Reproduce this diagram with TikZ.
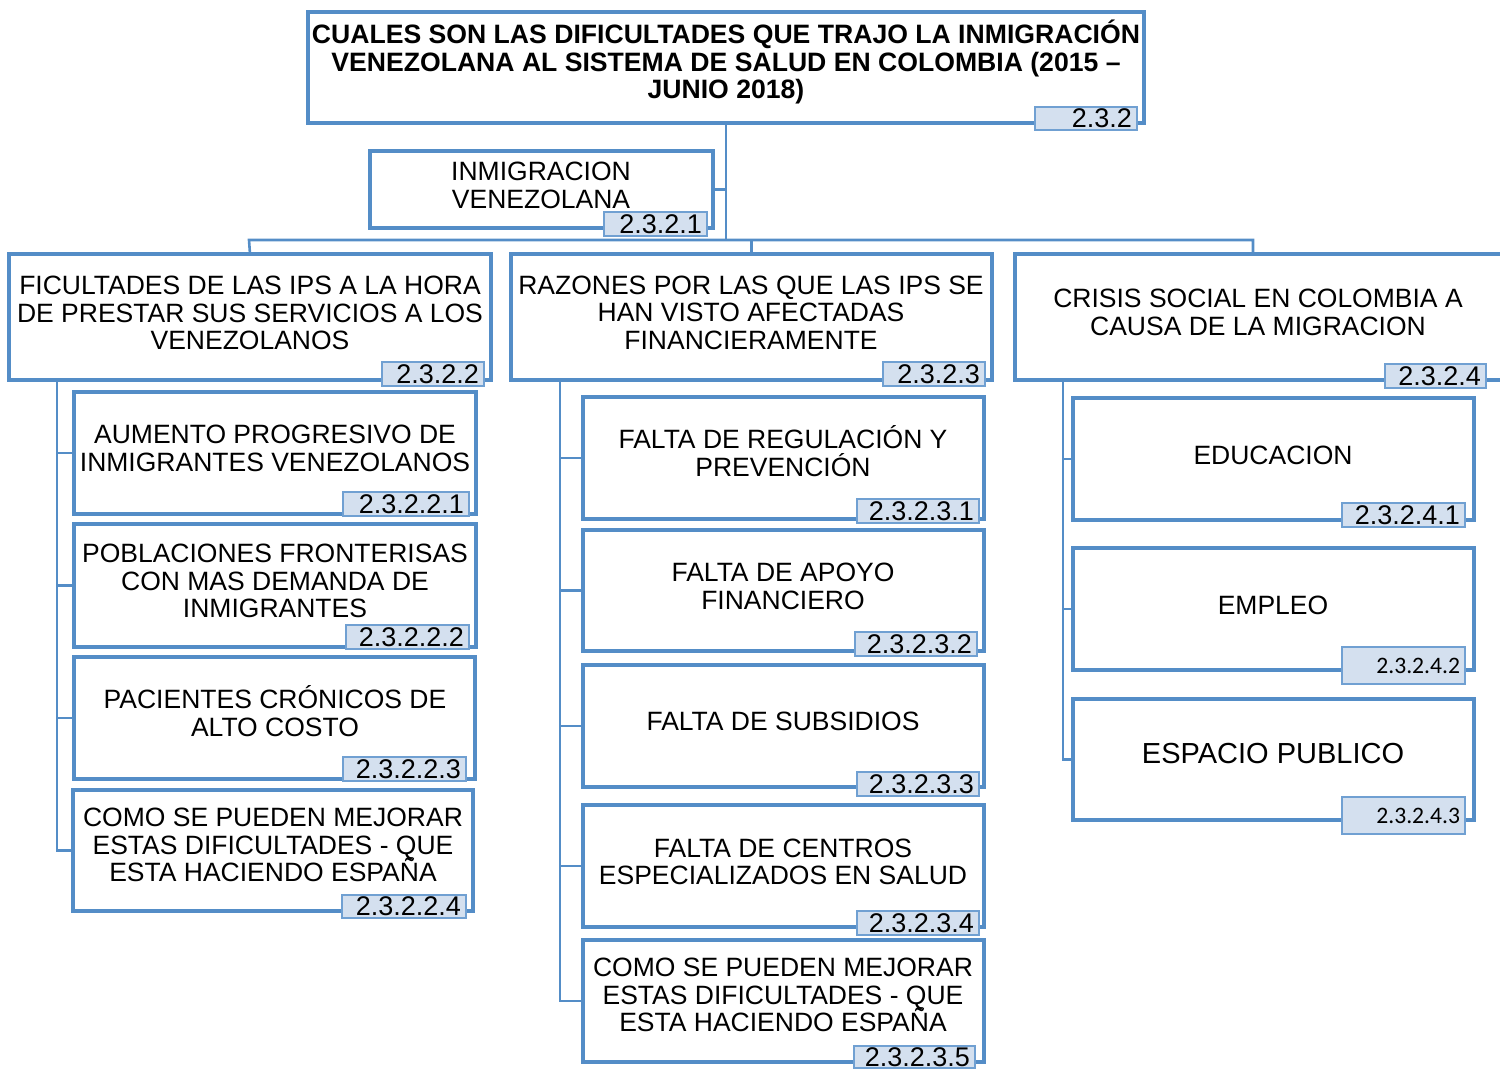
\documentclass[tikz,border=0pt]{standalone}
\usepackage{fontspec}
\setmainfont{Liberation Sans}
\newfontfamily\calfont{Carlito}
\definecolor{bl}{RGB}{84,141,199}
\definecolor{tagfill}{RGB}{212,224,239}
\definecolor{tagline}{RGB}{112,160,210}
\newcommand\nolskip{\lineskiplimit=-100pt\relax}
\newcommand\mkbox[5]{\pgfmathsetmacro\bw{(#4-#2)/2}\pgfmathsetmacro\bh{(#5-#3)/2}%
  \node[bbox,minimum width=\bw pt,minimum height=\bh pt,anchor=north west] (#1) at (#2,#3) {};}
\newcommand\mktag[7][]{\pgfmathsetmacro\bw{(#5-#3)/2}\pgfmathsetmacro\bh{(#6-#4)/2}\pgfmathsetmacro\tw{(#5-#3)/2-5}%
  \node[tagbox,#1,minimum width=\bw pt,minimum height=\bh pt,text width=\tw pt,anchor=north west] (#2) at (#3,#4) {#7};}
\begin{document}
\begin{tikzpicture}[x=0.5pt,y=-0.5pt,
  bbox/.style={draw=bl,line width=2pt,fill=white,inner sep=0pt,outer sep=0pt},
  tagbox/.style={draw=tagline,fill=tagfill,line width=1pt,align=right,inner xsep=2.5pt,inner ysep=0pt,outer sep=0pt,font=\fontsize{13.5}{14}\selectfont},
  caltag/.style={font=\calfont\fontsize{11.8}{12}\selectfont},
  txt/.style={align=center,inner sep=0pt,font=\fontsize{13.25}{13.8}\selectfont\nolskip},
  conn/.style={draw=bl,line width=1.3pt}]
\useasboundingbox (0,0) rectangle (1500,1070);
% connectors
\coordinate (busL) at (249,240);
\coordinate (busR) at (1253,240);
\coordinate (sA) at (57,381);
\coordinate (sB) at (560,381);
\coordinate (sC) at (1063,381);
% boxes
\mkbox{T}{308}{12}{1144}{123}
\mkbox{I}{370}{151}{713}{228}
\mkbox{A}{9}{254}{491}{380}
\mkbox{B}{511}{254}{992}{380}
\mkbox{C}{1015}{254}{1520}{380}
\mkbox{A1}{74}{392}{476}{514}
\mkbox{A2}{74}{524}{476}{647}
\mkbox{A3}{74}{657}{475}{779}
\mkbox{A4}{73}{790}{473}{911}
\mkbox{B1}{583}{397}{984}{519}
\mkbox{B2}{583}{530}{984}{651}
\mkbox{B3}{583}{665}{984}{787}
\mkbox{B4}{583}{805}{984}{927}
\mkbox{B5}{583}{940}{984}{1062}
\mkbox{C1}{1073}{398}{1474}{520}
\mkbox{C2}{1073}{548}{1474}{670}
\mkbox{C3}{1073}{699}{1474}{820}
% connector lines
\draw[conn] (T.south) -- (T.south |- busL);
\draw[conn] (I.east) -- (I.east -| T.south);
\draw[conn] (A.north) -- (busL) -- (busR) -- (busR |- C.north);
\draw[conn] (B.north) -- (B.north |- busL);
\foreach \c in {A1,A2,A3,A4} \draw[conn] (sA) |- (\c.west);
\foreach \c in {B1,B2,B3,B4,B5} \draw[conn] (sB) |- (\c.west);
\foreach \c in {C1,C2,C3} \draw[conn] (sC) |- (\c.west);
% texts
\node[txt,font=\bfseries\fontsize{13.3}{13.8}\selectfont\nolskip] (tT) at (726,62) {CUALES SON LAS DIFICULTADES QUE TRAJO LA INMIGRACIÓN\\VENEZOLANA AL SISTEMA DE SALUD EN COLOMBIA (2015 –\\JUNIO 2018)};
\node[txt] (tI) at (541,185.5) {INMIGRACION\\VENEZOLANA};
\node[txt] (tA) at (250,313) {FICULTADES DE LAS IPS A LA HORA\\DE PRESTAR SUS SERVICIOS A LOS\\VENEZOLANOS};
\node[txt] (tB) at (751,312.5) {RAZONES POR LAS QUE LAS IPS SE\\HAN VISTO AFECTADAS\\FINANCIERAMENTE};
\node[txt] (tC) at (1258,312.5) {CRISIS SOCIAL EN COLOMBIA A\\CAUSA DE LA MIGRACION};
\node[txt] (tA1) at (275,448.5) {AUMENTO PROGRESIVO DE\\INMIGRANTES VENEZOLANOS};
\node[txt] (tA2) at (275,581) {POBLACIONES FRONTERISAS\\CON MAS DEMANDA DE\\INMIGRANTES};
\node[txt] (tA3) at (275,711) {PACIENTES CRÓNICOS DE\\ALTO COSTO};
\node[txt] (tA4) at (273,845) {COMO SE PUEDEN MEJORAR\\ESTAS DIFICULTADES - QUE\\ESTA HACIENDO ESPAÑA};
\node[txt] (tB1) at (783,451) {FALTA DE REGULACIÓN Y\\PREVENCIÓN};
\node[txt] (tB2) at (783,586.5) {FALTA DE APOYO\\FINANCIERO};
\node[txt] (tB3) at (783,721) {FALTA DE SUBSIDIOS};
\node[txt] (tB4) at (783,862) {FALTA DE CENTROS\\ESPECIALIZADOS EN SALUD};
\node[txt] (tB5) at (783,995) {COMO SE PUEDEN MEJORAR\\ESTAS DIFICULTADES - QUE\\ESTA HACIENDO ESPAÑA};
\node[txt] (tC1) at (1273,455) {EDUCACION};
\node[txt] (tC2) at (1273,605) {EMPLEO};
\node[txt,font=\fontsize{14.5}{15}\selectfont] (tC3) at (1273,754) {ESPACIO PUBLICO};
% tags
\mktag{gT}{1035}{107}{1137}{130}{2.3.2}
\mktag{gI}{604}{212}{707}{236}{2.3.2.1}
\mktag{gA}{382}{362}{484}{386}{2.3.2.2}
\mktag{gB}{883}{362}{985}{386}{2.3.2.3}
\mktag{gC}{1385}{364}{1486}{388}{2.3.2.4}
\mktag{gA1}{343}{492}{469}{516}{2.3.2.2.1}
\mktag{gA2}{346}{625}{469}{649}{2.3.2.2.2}
\mktag{gA3}{343}{757}{466}{781}{2.3.2.2.3}
\mktag{gA4}{342}{895}{466}{918}{2.3.2.2.4}
\mktag{gB1}{857}{499}{979}{523}{2.3.2.3.1}
\mktag{gB2}{855}{632}{977}{656}{2.3.2.3.2}
\mktag{gB3}{857}{772}{979}{796}{2.3.2.3.3}
\mktag{gB4}{857}{911}{979}{935}{2.3.2.3.4}
\mktag{gB5}{854}{1046}{975}{1068}{2.3.2.3.5}
\mktag{gC1}{1342}{503}{1465}{527}{2.3.2.4.1}
\mktag[caltag]{gC2}{1342}{647}{1465}{684}{2.3.2.4.2}
\mktag[caltag]{gC3}{1342}{797}{1465}{834}{2.3.2.4.3}
\end{tikzpicture}
\end{document}
